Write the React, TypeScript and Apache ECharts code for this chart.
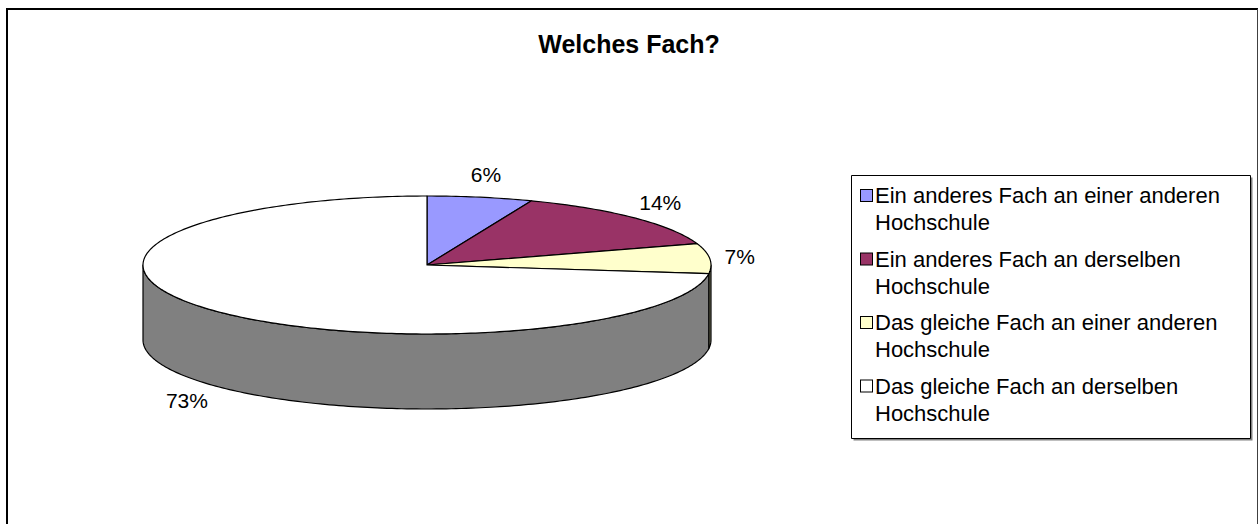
import React, { useEffect, useRef } from "react";
import * as echarts from "echarts";

// ---- data ----
const categories: string[] = [
  "Ein anderes Fach an einer anderen Hochschule",
  "Ein anderes Fach an derselben Hochschule",
  "Das gleiche Fach an einer anderen Hochschule",
  "Das gleiche Fach an derselben Hochschule",
];
const values: number[] = [6, 14, 7, 73];
const topColors: string[] = ["#9999FF", "#993366", "#FFFFCC", "#FFFFFF"];
const sideColors: string[] = ["#4C4C80", "#4C1933", "#808066", "#808080"];
const titleText = "Welches Fach?";

// ---- layout / style ----
const FONT = "'Liberation Sans', Arial, sans-serif";
const CX = 427;
const CY = 265;
const RX = 284;
const RY = 69;
const DEPTH = 75;
const LABEL_GAP = 15;
const LABEL_SIZE = 21;

const total = values.reduce((a, b) => a + b, 0);
const starts = values.map((_, i) => values.slice(0, i).reduce((a, b) => a + b, 0));

function pt(theta: number, dy = 0): number[] {
  return [CX + RX * Math.sin(theta), CY - RY * Math.cos(theta) + dy];
}
function arc(a: number, b: number, dy = 0): number[][] {
  const n = Math.max(2, Math.ceil((b - a) / (Math.PI / 180)));
  const pts: number[][] = [];
  for (let k = 0; k <= n; k++) pts.push(pt(a + ((b - a) * k) / n, dy));
  return pts;
}
function textWidth(s: string, size: number): number {
  let w = 0;
  for (const ch of s) w += ch === "%" ? 0.889 : 0.556;
  return w * size;
}

function makeRenderItem(i: number) {
  return (_params: any, api: any) => {
    const v = api.value(0);
    const s = (starts[i] / total) * 2 * Math.PI;
    const e = s + (v / total) * 2 * Math.PI;
    const children: any[] = [];
    const a = Math.max(s, Math.PI / 2);
    const b = Math.min(e, (3 * Math.PI) / 2);
    if (b > a) {
      const topEdge = arc(a, b);
      const bottomEdge = arc(a, b, DEPTH).reverse();
      children.push({
        type: "polygon",
        shape: { points: topEdge.concat(bottomEdge) },
        style: { fill: sideColors[i], stroke: "#000", lineWidth: 1.2, lineJoin: "round" },
      });
    }
    children.push({
      type: "polygon",
      shape: { points: [[CX, CY], ...arc(s, e)] },
      style: { fill: topColors[i], stroke: "#000", lineWidth: 1.2, lineJoin: "round" },
    });
    const m = (s + e) / 2;
    const label = `${v}%`;
    const w = textWidth(label, LABEL_SIZE);
    const h = 16;
    const sx = Math.sin(m);
    const cy = Math.cos(m);
    const lx = CX + (RX + LABEL_GAP) * sx + (w / 2) * sx;
    const ly = CY - (RY + LABEL_GAP) * cy - (h / 2) * cy + (cy < 0 ? DEPTH : 0);
    children.push({
      type: "text",
      x: lx,
      y: ly,
      style: {
        text: label,
        fill: "#000",
        fontSize: LABEL_SIZE,
        fontFamily: FONT,
        align: "center",
        verticalAlign: "middle",
      },
    });
    return { type: "group", children };
  };
}

export default function App() {
  const ref = useRef<HTMLDivElement>(null);
  useEffect(() => {
    if (!ref.current) return;
    const chart = echarts.init(ref.current, undefined, { renderer: "svg" });
    const rich: any = {
      g: { width: 3, lineHeight: 27 },
      s: { width: 14, lineHeight: 27 },
      t: { fontSize: 22, fontFamily: FONT, color: "#000", lineHeight: 27 },
    };
    topColors.forEach((c, i) => {
      rich["m" + i] = {
        width: 11,
        height: 11,
        backgroundColor: c,
        borderColor: "#000",
        borderWidth: 1,
        lineHeight: 27,
      };
    });
    chart.setOption({
      animation: false,
      backgroundColor: "#ffffff",
      title: {
        text: titleText,
        left: "center",
        top: 31,
        padding: 0,
        textStyle: { fontSize: 25, fontWeight: "bold", fontFamily: FONT, color: "#000" },
      },
      legend: {
        orient: "vertical",
        left: 855,
        top: 182,
        padding: 0,
        itemGap: 9.5,
        icon: "none",
        itemWidth: 1,
        itemHeight: 1,
        selectedMode: false,
        data: categories,
        formatter: (name: string) => {
          const i = categories.indexOf(name);
          const cut = name.lastIndexOf(" ");
          return `{m${i}|}{g|}{t|${name.slice(0, cut)}}\n{s|}{t|${name.slice(cut + 1)}}`;
        },
        textStyle: { fontSize: 22, fontFamily: FONT, color: "#000", lineHeight: 27, rich },
      },
      graphic: [
        {
          type: "polyline",
          z: 0,
          silent: true,
          shape: { points: [[7, 524], [7, 9], [1258, 9]] },
          style: { stroke: "#000", lineWidth: 2, fill: null },
        },
        {
          type: "line",
          z: 0,
          silent: true,
          shape: { x1: 1257.5, y1: 9, x2: 1257.5, y2: 524 },
          style: { stroke: "#404040", lineWidth: 1 },
        },
        {
          type: "rect",
          z: 0,
          silent: true,
          shape: { x: 853.5, y: 177.5, width: 399, height: 263 },
          style: { fill: "#808080" },
        },
        {
          type: "rect",
          z: 0,
          silent: true,
          shape: { x: 851.5, y: 175.5, width: 399, height: 263 },
          style: { fill: "#ffffff", stroke: "#000", lineWidth: 1 },
        },
      ],
      series: categories.map((name, i) => ({
        type: "custom",
        name,
        coordinateSystem: "none",
        silent: true,
        itemStyle: { color: topColors[i] },
        data: [[values[i]]],
        renderItem: makeRenderItem(i),
      })),
    });
    return () => chart.dispose();
  }, []);
  return (
    <div
      ref={ref}
      style={{ position: "fixed", left: 0, top: 0, width: 1258, height: 524, background: "#fff" }}
    />
  );
}
